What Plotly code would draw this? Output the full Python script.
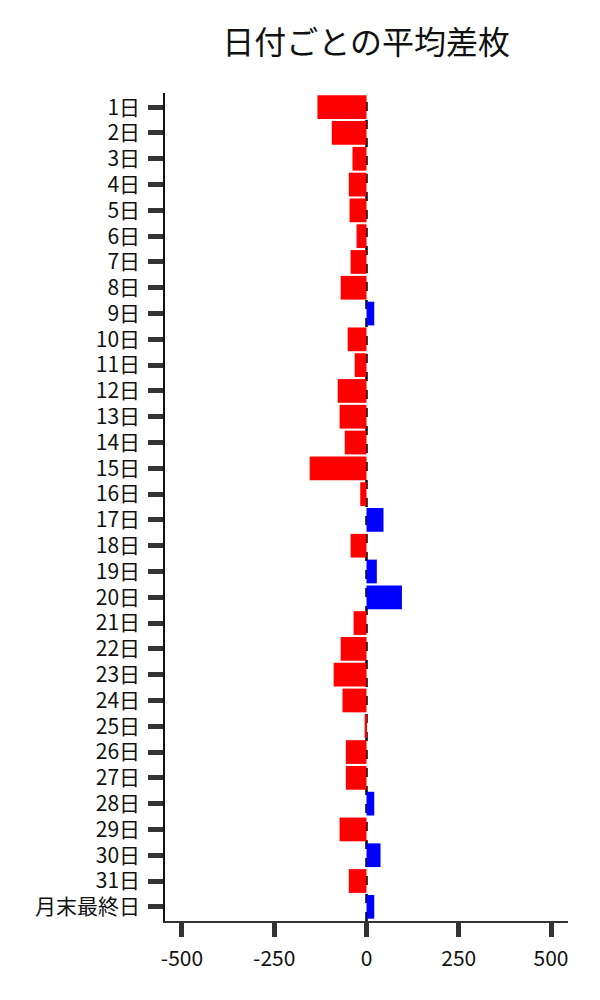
import plotly.graph_objects as go

categories = [f"{i}日" for i in range(1, 32)] + ["月末最終日"]
values = [-133, -94, -38, -48, -46, -27, -43, -70, 21, -51, -32, -78, -73, -59,
          -154, -17, 46, -43, 28, 96, -35, -70, -89, -65, -5, -56, -56, 21, -73,
          38, -48, 21]
colors = ["#ff0000" if v < 0 else "#0000ff" for v in values]
x_ticks = [-500, -250, 0, 250, 500]

FONT = "Noto Sans CJK JP"

fig = go.Figure()
fig.add_trace(go.Bar(
    x=values, y=categories, orientation="h",
    marker=dict(color=colors, line=dict(width=0)),
    showlegend=False,
))

fig.add_shape(type="line", x0=0, x1=0, y0=0, y1=1, xref="x", yref="paper",
              line=dict(color="black", width=2.5, dash="dash"), layer="below")

fig.update_layout(
    width=600, height=1000,
    paper_bgcolor="white", plot_bgcolor="white",
    margin=dict(l=157, r=40, t=85, b=87),
    bargap=0.08,
    font=dict(family=FONT, size=21, color="#111"),
    title=dict(text="日付ごとの平均差枚", x=0.597, xanchor="center", y=0.965, yanchor="middle",
               font=dict(family=FONT, size=32, color="#111")),
)
fig.update_xaxes(
    range=[-546, 546], tickvals=x_ticks, ticktext=[str(v) for v in x_ticks],
    showgrid=False, zeroline=False,
    showline=True, linecolor="#333", linewidth=1.5,
    ticks="outside", ticklen=14, tickwidth=5, tickcolor="#333",
    ticklabelstandoff=4,
)
fig.update_yaxes(
    categoryorder="array", categoryarray=categories,
    tickmode="array", tickvals=categories, ticktext=categories,
    range=[31.55, -0.55],
    showgrid=False, zeroline=False,
    showline=True, linecolor="#111", linewidth=1.5,
    ticks="outside", ticklen=15, tickwidth=5, tickcolor="#333",
    ticklabelstandoff=4,
)

fig.write_html("out.html")
